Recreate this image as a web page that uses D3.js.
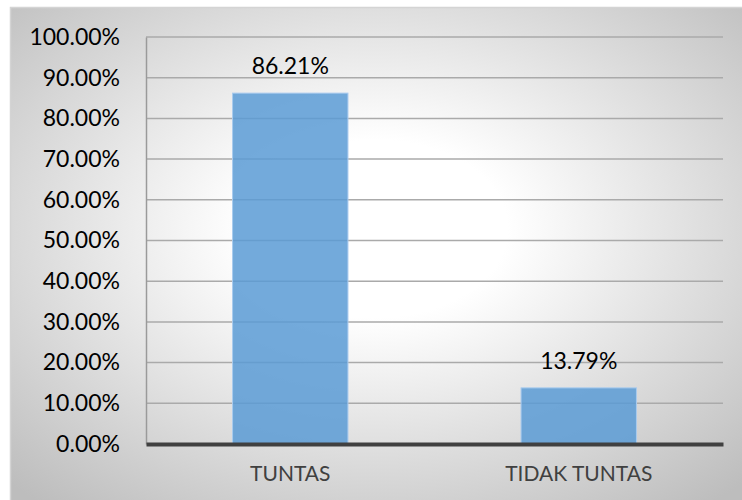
<!DOCTYPE html>
<html>
<head>
<meta charset="utf-8">
<title></title>
<style>
body { margin: 0; background: #fff; }
text { font-family: Lato, "Open Sans", sans-serif; }
.tick text { font-size: 23px; fill: #000; }
.cat text { font-size: 21px; fill: #404040; }
.grid line { stroke: #aaaaaa; stroke-width: 1.5px; }
</style>
</head>
<body>
<script src="https://cdn.jsdelivr.net/npm/d3@7"></script>
<script>

var categories = ["TUNTAS", "TIDAK TUNTAS"];
var values = [86.21, 13.79];
var yTicks = [0, 10, 20, 30, 40, 50, 60, 70, 80, 90, 100];

var width = 742,
    height = 500;

var margin = {top: 37, right: 19, bottom: 56, left: 146};

var svg = d3.select("body").append("svg")
    .attr("width", width)
    .attr("height", height);

// background gradient like the office chart
var grad = svg.append("defs").append("radialGradient")
    .attr("id", "bg")
    .attr("cx", "50%").attr("cy", "45%").attr("r", "72%");
grad.append("stop").attr("offset", "0%").attr("stop-color", "#ffffff");
grad.append("stop").attr("offset", "25%").attr("stop-color", "#ffffff");
grad.append("stop").attr("offset", "100%").attr("stop-color", "#bdbdbd");

svg.append("rect")
    .attr("x", 10).attr("y", 7)
    .attr("width", width - 10).attr("height", height - 7)
    .attr("fill", "url(#bg)");

// frame (only top and left visible)
svg.append("path")
    .attr("d", "M10.5," + height + "V7.5H" + width)
    .attr("fill", "none")
    .attr("stroke", "#d4d4d4")
    .attr("stroke-width", 1.5);

var x = d3.scaleBand()
    .domain(categories)
    .range([margin.left, width - margin.right])
    .paddingInner(0.6)
    .paddingOuter(0.3);

var y = d3.scaleLinear()
    .domain([0, 100])
    .range([height - margin.bottom, margin.top]);

// gridlines
svg.append("g")
    .attr("class", "grid")
    .selectAll("line")
    .data(yTicks.filter(function(d) { return d > 0; }))
    .enter().append("line")
    .attr("x1", margin.left)
    .attr("x2", width - margin.right)
    .attr("y1", function(d) { return y(d); })
    .attr("y2", function(d) { return y(d); });

// y axis
var yAxis = svg.append("g")
    .attr("transform", "translate(" + margin.left + ",0)")
    .call(d3.axisLeft(y)
        .tickValues(yTicks)
        .tickSize(0)
        .tickPadding(26)
        .tickFormat(function(d) { return d.toFixed(2) + "%"; }));
yAxis.select(".domain")
    .attr("stroke", "#9a9a9a")
    .attr("stroke-width", 1.5);

// bars
svg.append("g")
    .selectAll("rect")
    .data(values)
    .enter().append("rect")
    .attr("x", function(d, i) { return x(categories[i]); })
    .attr("width", x.bandwidth())
    .attr("y", function(d) { return y(d); })
    .attr("height", function(d) { return y(0) - y(d); })
    .attr("fill", "#5b9bd5")
    .attr("fill-opacity", 0.85)
    .attr("stroke", "#a9cbee")
    .attr("stroke-width", 1);

// value labels
svg.append("g")
    .selectAll("text")
    .data(values)
    .enter().append("text")
    .attr("x", function(d, i) { return x(categories[i]) + x.bandwidth() / 2; })
    .attr("y", function(d) { return y(d) - 19; })
    .attr("text-anchor", "middle")
    .style("font-size", "23px")
    .style("fill", "#000")
    .text(function(d) { return d.toFixed(2) + "%"; });

// x axis
var xAxis = svg.append("g")
    .attr("class", "cat")
    .attr("transform", "translate(0," + y(0) + ")")
    .call(d3.axisBottom(x).tickSize(0).tickPadding(22));
xAxis.select(".domain")
    .attr("stroke", "#404040")
    .attr("stroke-width", 4);

</script>
</body>
</html>
